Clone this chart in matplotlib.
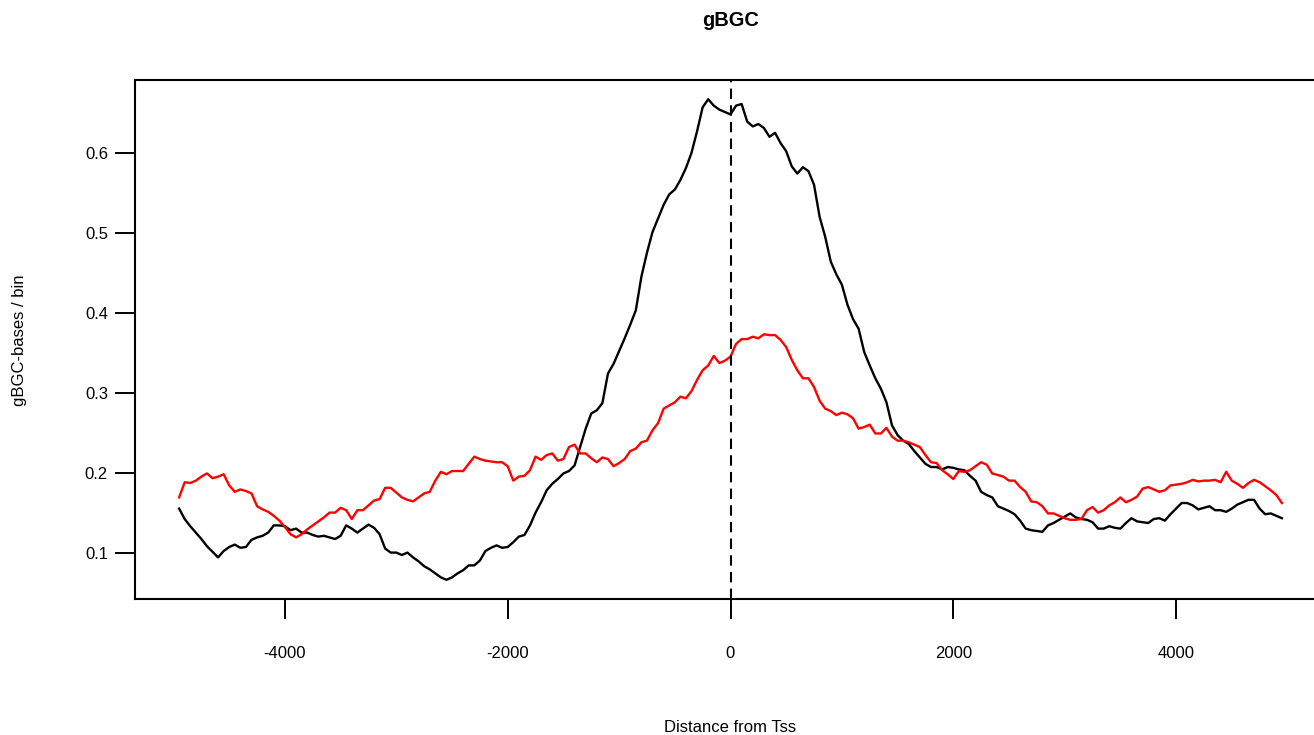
import numpy as np
import matplotlib
matplotlib.use("Agg")
import matplotlib.pyplot as plt

plt.rcParams['font.family'] = ['Liberation Sans', 'DejaVu Sans']

# bin centres (bp relative to TSS), 50 bp bins
bin_start = -4950
bin_step = 50

# gBGC bases per bin, black series
gbgc_black = [
    0.155, 0.142, 0.133, 0.125, 0.117, 0.108, 0.101, 0.094, 0.102, 0.107,
    0.110, 0.106, 0.107, 0.116, 0.119, 0.121, 0.125, 0.134, 0.134, 0.133,
    0.128, 0.130, 0.125, 0.125, 0.122, 0.120, 0.121, 0.119, 0.117, 0.121,
    0.134, 0.130, 0.125, 0.130, 0.135, 0.131, 0.123, 0.105, 0.100, 0.100,
    0.097, 0.100, 0.094, 0.089, 0.083, 0.079, 0.074, 0.069, 0.066, 0.069,
    0.074, 0.078, 0.084, 0.084, 0.090, 0.102, 0.106, 0.109, 0.106, 0.107,
    0.113, 0.120, 0.122, 0.134, 0.150, 0.163, 0.178, 0.186, 0.192, 0.199,
    0.202, 0.209, 0.232, 0.255, 0.274, 0.278, 0.287, 0.324, 0.336, 0.352,
    0.368, 0.385, 0.403, 0.445, 0.475, 0.501, 0.518, 0.535, 0.548, 0.554,
    0.566, 0.581, 0.600, 0.627, 0.657, 0.667, 0.659, 0.654, 0.651, 0.648,
    0.659, 0.661, 0.639, 0.633, 0.636, 0.631, 0.620, 0.625, 0.612, 0.602,
    0.583, 0.574, 0.582, 0.577, 0.560, 0.520, 0.495, 0.464, 0.448, 0.435,
    0.410, 0.392, 0.380, 0.351, 0.334, 0.318, 0.305, 0.288, 0.259, 0.247,
    0.240, 0.236, 0.227, 0.219, 0.211, 0.207, 0.207, 0.204, 0.207, 0.206,
    0.204, 0.203, 0.196, 0.190, 0.176, 0.172, 0.169, 0.158, 0.155, 0.152,
    0.148, 0.140, 0.130, 0.128, 0.127, 0.126, 0.134, 0.137, 0.141, 0.145,
    0.149, 0.144, 0.142, 0.141, 0.138, 0.130, 0.130, 0.133, 0.131, 0.130,
    0.137, 0.143, 0.139, 0.138, 0.137, 0.142, 0.143, 0.140, 0.148, 0.155,
    0.162, 0.162, 0.159, 0.154, 0.156, 0.158, 0.153, 0.153, 0.151, 0.155,
    0.160, 0.163, 0.166, 0.166, 0.155, 0.148, 0.149, 0.146, 0.143,
]

# gBGC bases per bin, red series
gbgc_red = [
    0.169, 0.188, 0.187, 0.190, 0.195, 0.199, 0.193, 0.195, 0.198, 0.184,
    0.176, 0.179, 0.177, 0.174, 0.158, 0.154, 0.151, 0.146, 0.140, 0.132,
    0.123, 0.119, 0.123, 0.129, 0.134, 0.139, 0.144, 0.150, 0.150, 0.156,
    0.153, 0.142, 0.153, 0.153, 0.159, 0.165, 0.167, 0.181, 0.181, 0.175,
    0.169, 0.166, 0.164, 0.169, 0.174, 0.176, 0.190, 0.201, 0.198, 0.202,
    0.202, 0.202, 0.211, 0.220, 0.217, 0.215, 0.214, 0.213, 0.213, 0.208,
    0.190, 0.195, 0.196, 0.203, 0.220, 0.216, 0.222, 0.224, 0.215, 0.217,
    0.232, 0.235, 0.224, 0.224, 0.218, 0.213, 0.219, 0.217, 0.208, 0.212,
    0.217, 0.227, 0.230, 0.238, 0.240, 0.253, 0.262, 0.280, 0.284, 0.288,
    0.295, 0.293, 0.302, 0.316, 0.328, 0.334, 0.346, 0.337, 0.340, 0.345,
    0.361, 0.367, 0.367, 0.370, 0.368, 0.373, 0.372, 0.372, 0.366, 0.357,
    0.341, 0.328, 0.318, 0.318, 0.307, 0.290, 0.280, 0.277, 0.272, 0.275,
    0.273, 0.268, 0.255, 0.257, 0.260, 0.249, 0.249, 0.256, 0.245, 0.240,
    0.240, 0.238, 0.235, 0.232, 0.222, 0.213, 0.212, 0.203, 0.198, 0.192,
    0.202, 0.201, 0.203, 0.208, 0.213, 0.210, 0.199, 0.197, 0.195, 0.190,
    0.190, 0.182, 0.176, 0.164, 0.163, 0.158, 0.149, 0.149, 0.146, 0.143,
    0.141, 0.141, 0.142, 0.153, 0.157, 0.150, 0.153, 0.159, 0.163, 0.169,
    0.163, 0.166, 0.170, 0.180, 0.182, 0.179, 0.176, 0.178, 0.184, 0.185,
    0.186, 0.188, 0.191, 0.189, 0.190, 0.190, 0.191, 0.188, 0.201, 0.190,
    0.186, 0.181, 0.187, 0.191, 0.188, 0.183, 0.178, 0.172, 0.162,
]

x_ticks = [-4000, -2000, 0, 2000, 4000]
y_ticks = [0.1, 0.2, 0.3, 0.4, 0.5, 0.6]

pos = bin_start + bin_step * np.arange(len(gbgc_black))

W, H = 1314, 735
fig = plt.figure(figsize=(W / 100, H / 100), dpi=100)
# plot region in pixels: left 135, right 1326 (runs past the edge), top 80, bottom 599
ax = fig.add_axes([135 / W, (H - 599) / H, (1326 - 135) / W, (599 - 80) / H])

ax.plot(pos, gbgc_black, color='black', lw=1.7)
ax.plot(pos, gbgc_red, color='red', lw=1.7)
ax.axvline(0, color='black', lw=1.5, linestyle=(0, (5, 3)))

# R-style 4% padding around the data range
xr = pos.max() - pos.min()
ax.set_xlim(pos.min() - 0.04 * xr, pos.max() + 0.04 * xr)
ylo = min(min(gbgc_black), min(gbgc_red))
yhi = max(max(gbgc_black), max(gbgc_red))
yr = yhi - ylo
ax.set_ylim(ylo - 0.04 * yr, yhi + 0.04 * yr)

ax.set_xticks(x_ticks)
ax.set_xticklabels([str(t) for t in x_ticks])
ax.set_yticks(y_ticks)
ax.set_yticklabels([f"{t:.1f}" for t in y_ticks])
ax.tick_params(axis='both', direction='out', length=14.5, width=1.4,
               labelsize=12, colors='black')
ax.tick_params(axis='x', pad=19)
ax.tick_params(axis='y', pad=5)
for s in ax.spines.values():
    s.set_linewidth(1.5)

fig.text(730.5 / W, 1 - 20 / H, 'gBGC', ha='center', va='center',
         fontsize=14.4, fontweight='bold')
fig.text(730.5 / W, 1 - 727 / H, 'Distance from Tss', ha='center',
         va='center', fontsize=12)
fig.text(20 / W, 1 - 340 / H, 'gBGC-bases / bin', ha='center', va='center',
         rotation=90, fontsize=12)

fig.savefig('out.png', dpi=100)
